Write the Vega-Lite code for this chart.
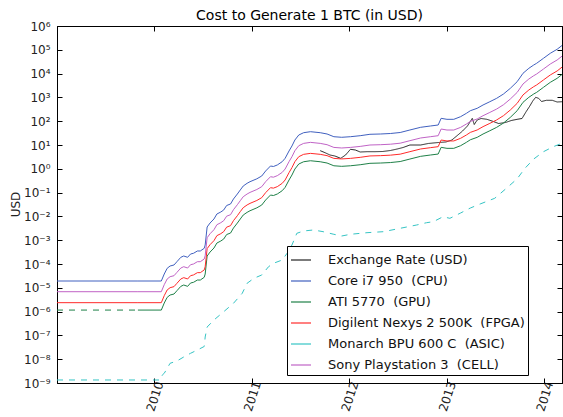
{
  "$schema": "https://vega.github.io/schema/vega-lite/v6.json",
  "width": 505,
  "height": 357,
  "autosize": {"type": "none"},
  "padding": {"left": 57, "top": 26, "right": 1, "bottom": 34},
  "title": {"text": "Cost to Generate 1 BTC (in USD)", "fontSize": 14, "fontWeight": "normal", "font": "DejaVu Sans", "color": "#000", "offset": -14, "baseline": "alphabetic", "anchor": "middle"},
  "config": {
    "font": "DejaVu Sans",
    "view": {"stroke": "#000", "strokeWidth": 1},
    "axis": {"domainColor": "#000", "tickColor": "#000", "labelColor": "#222", "labelFontSize": 12, "grid": false, "tickSize": -5, "titleFontWeight": "normal", "titleFontSize": 12, "titleColor": "#222"}
  },
  "datasets": {
    "wide": [
      {"t": 2009.00, "C": 1.93e-5, "P": 6.85e-6, "F": 2.37e-6},
      {"t": 2009.83, "C": 1.93e-5, "P": 6.85e-6, "F": 2.37e-6, "G": 1.16e-6},
      {"t": 2010.07, "C": 1.93e-5, "P": 6.85e-6, "F": 2.37e-6, "G": 1.16e-6},
      {"t": 2010.10, "C": 3.80e-5, "P": 1.35e-5, "F": 4.67e-6, "G": 2.29e-6},
      {"t": 2010.13, "C": 6.59e-5, "P": 2.34e-5, "F": 8.11e-6, "G": 3.97e-6},
      {"t": 2010.16, "C": 8.24e-5, "P": 2.93e-5, "F": 1.01e-5, "G": 4.97e-6},
      {"t": 2010.20, "C": 9.08e-5, "P": 3.22e-5, "F": 1.12e-5, "G": 5.48e-6},
      {"t": 2010.23, "C": 1.25e-4, "P": 4.44e-5, "F": 1.54e-5, "G": 7.54e-6},
      {"t": 2010.27, "C": 1.91e-4, "P": 6.78e-5, "F": 2.35e-5, "G": 1.15e-5},
      {"t": 2010.30, "C": 2.17e-4, "P": 7.70e-5, "F": 2.67e-5, "G": 1.31e-5},
      {"t": 2010.34, "C": 1.91e-4, "P": 6.78e-5, "F": 2.35e-5, "G": 1.15e-5},
      {"t": 2010.37, "C": 2.63e-4, "P": 9.34e-5, "F": 3.23e-5, "G": 1.59e-5},
      {"t": 2010.40, "C": 2.82e-4, "P": 1.00e-4, "F": 3.47e-5, "G": 1.70e-5},
      {"t": 2010.44, "C": 3.52e-4, "P": 1.25e-4, "F": 4.33e-5, "G": 2.12e-5},
      {"t": 2010.47, "C": 3.52e-4, "P": 1.25e-4, "F": 4.33e-5, "G": 2.12e-5},
      {"t": 2010.51, "C": 4.57e-4, "P": 1.62e-4, "F": 5.62e-5, "G": 2.76e-5},
      {"t": 2010.52, "C": 6.28e-4, "P": 2.23e-4, "F": 7.72e-5, "G": 3.79e-5},
      {"t": 2010.54, "C": 3.59e-3, "P": 1.27e-3, "F": 4.42e-4, "G": 2.16e-4},
      {"t": 2010.57, "C": 5.28e-3, "P": 1.87e-3, "F": 6.49e-4, "G": 3.18e-4},
      {"t": 2010.61, "C": 7.78e-3, "P": 2.76e-3, "F": 9.57e-4, "G": 4.69e-4},
      {"t": 2010.64, "C": 1.26e-2, "P": 4.47e-3, "F": 1.55e-3, "G": 7.60e-4},
      {"t": 2010.68, "C": 1.53e-2, "P": 5.43e-3, "F": 1.88e-3, "G": 9.23e-4},
      {"t": 2010.71, "C": 1.86e-2, "P": 6.60e-3, "F": 2.29e-3, "G": 1.12e-3},
      {"t": 2010.74, "C": 2.87e-2, "P": 1.02e-2, "F": 3.53e-3, "G": 1.73e-3},
      {"t": 2010.78, "C": 3.32e-2, "P": 1.18e-2, "F": 4.08e-3, "G": 2.00e-3},
      {"t": 2010.81, "C": 5.38e-2, "P": 1.91e-2, "F": 6.62e-3, "G": 3.24e-3},
      {"t": 2010.85, "C": 8.73e-2, "P": 3.10e-2, "F": 1.07e-2, "G": 5.26e-3},
      {"t": 2010.88, "C": 0.129, "P": 0.0458, "F": 0.0159, "G": 0.00778},
      {"t": 2010.91, "C": 0.189, "P": 0.0671, "F": 0.0232, "G": 0.0114},
      {"t": 2010.95, "C": 0.246, "P": 0.0873, "F": 0.0303, "G": 0.0148},
      {"t": 2010.98, "C": 0.287, "P": 0.102, "F": 0.0353, "G": 0.0173},
      {"t": 2011.05, "C": 0.380, "P": 0.135, "F": 0.0467, "G": 0.0229},
      {"t": 2011.10, "C": 0.498, "P": 0.177, "F": 0.0613, "G": 0.0300},
      {"t": 2011.14, "C": 0.809, "P": 0.287, "F": 0.0995, "G": 0.0488},
      {"t": 2011.19, "C": 1.31, "P": 0.465, "F": 0.161, "G": 0.0790},
      {"t": 2011.22, "C": 1.25, "P": 0.444, "F": 0.154, "G": 0.0754},
      {"t": 2011.26, "C": 1.45, "P": 0.515, "F": 0.178, "G": 0.0874},
      {"t": 2011.31, "C": 1.99, "P": 0.706, "F": 0.245, "G": 0.120},
      {"t": 2011.34, "C": 2.76, "P": 0.980, "F": 0.339, "G": 0.166},
      {"t": 2011.38, "C": 5.60, "P": 1.99, "F": 0.689, "G": 0.338},
      {"t": 2011.41, "C": 9.08, "P": 3.22, "F": 1.12, "G": 0.548},
      {"t": 2011.44, "C": 16.2, "P": 5.75, "F": 1.99, "G": 0.977},
      {"t": 2011.48, "C": 26.3, "P": 9.34, "F": 3.23, "G": 1.59},
      {"t": 2011.53, "C": 32.9, "P": 11.7, "F": 4.05, "G": 1.98},
      {"t": 2011.60, "C": 36.2, "P": 12.9, "F": 4.45, "G": 2.18},
      {"t": 2011.70, "C": 32.9, "P": 11.7, "F": 4.05, "G": 1.98},
      {"t": 2011.77, "C": 29.0, "P": 10.3, "F": 3.57, "G": 1.75},
      {"t": 2011.84, "C": 22.3, "P": 7.92, "F": 2.74, "G": 1.34},
      {"t": 2011.92, "C": 21.1, "P": 7.49, "F": 2.60, "G": 1.27},
      {"t": 2012.01, "C": 22.3, "P": 7.92, "F": 2.74, "G": 1.34},
      {"t": 2012.11, "C": 24.6, "P": 8.73, "F": 3.03, "G": 1.48},
      {"t": 2012.21, "C": 28.2, "P": 10.0, "F": 3.47, "G": 1.70},
      {"t": 2012.32, "C": 29.0, "P": 10.3, "F": 3.57, "G": 1.75},
      {"t": 2012.42, "C": 30.4, "P": 10.8, "F": 3.74, "G": 1.83},
      {"t": 2012.52, "C": 33.5, "P": 11.9, "F": 4.12, "G": 2.02},
      {"t": 2012.62, "C": 42.7, "P": 15.2, "F": 5.25, "G": 2.57},
      {"t": 2012.73, "C": 55.4, "P": 19.7, "F": 6.81, "G": 3.34},
      {"t": 2012.83, "C": 62.8, "P": 22.3, "F": 7.72, "G": 3.79},
      {"t": 2012.91, "C": 69.2, "P": 24.6, "F": 8.51, "G": 4.17},
      {"t": 2012.94, "C": 132, "P": 46.9, "F": 16.2, "G": 7.96},
      {"t": 2013.00, "C": 120, "P": 42.6, "F": 14.8, "G": 7.24},
      {"t": 2013.07, "C": 120, "P": 42.6, "F": 14.8, "G": 7.24},
      {"t": 2013.14, "C": 155, "P": 55.0, "F": 19.1, "G": 9.35},
      {"t": 2013.20, "C": 215, "P": 76.3, "F": 26.4, "G": 13.0},
      {"t": 2013.24, "C": 276, "P": 98.0, "F": 33.9, "G": 16.6},
      {"t": 2013.31, "C": 348, "P": 124, "F": 42.8, "G": 21.0},
      {"t": 2013.37, "C": 480, "P": 170, "F": 59.0, "G": 28.9},
      {"t": 2013.44, "C": 659, "P": 234, "F": 81.1, "G": 39.7},
      {"t": 2013.51, "C": 916, "P": 325, "F": 113, "G": 55.2},
      {"t": 2013.58, "C": 1390, "P": 493, "F": 171, "G": 83.8},
      {"t": 2013.65, "C": 2410, "P": 856, "F": 296, "G": 145},
      {"t": 2013.72, "C": 4570, "P": 1620, "F": 562, "G": 276},
      {"t": 2013.78, "C": 10300, "P": 3660, "F": 1270, "G": 621},
      {"t": 2013.84, "C": 16700, "P": 5930, "F": 2050, "G": 1010},
      {"t": 2013.89, "C": 23000, "P": 8170, "F": 2830, "G": 1390},
      {"t": 2013.92, "C": 27100, "P": 9620, "F": 3330, "G": 1630},
      {"t": 2013.99, "C": 44000, "P": 15600, "F": 5410, "G": 2650},
      {"t": 2014.06, "C": 71300, "P": 25300, "F": 8770, "G": 4300},
      {"t": 2014.13, "C": 105000, "P": 37300, "F": 12900, "G": 6330},
      {"t": 2014.18, "C": 152000, "P": 54000, "F": 18700, "G": 9170}
    ],
    "long": [
      {"s": "E", "d": "solid", "t": 2011.70, "v": 5.77},
      {"s": "E", "d": "solid", "t": 2011.75, "v": 4.74},
      {"s": "E", "d": "solid", "t": 2011.80, "v": 3.80},
      {"s": "E", "d": "solid", "t": 2011.85, "v": 3.45},
      {"s": "E", "d": "solid", "t": 2011.91, "v": 2.76},
      {"s": "E", "d": "solid", "t": 2011.96, "v": 3.80},
      {"s": "E", "d": "solid", "t": 2012.01, "v": 6.59},
      {"s": "E", "d": "solid", "t": 2012.06, "v": 6.17},
      {"s": "E", "d": "solid", "t": 2012.11, "v": 5.08},
      {"s": "E", "d": "solid", "t": 2012.18, "v": 5.23},
      {"s": "E", "d": "solid", "t": 2012.26, "v": 5.23},
      {"s": "E", "d": "solid", "t": 2012.34, "v": 5.33},
      {"s": "E", "d": "solid", "t": 2012.42, "v": 5.87},
      {"s": "E", "d": "solid", "t": 2012.49, "v": 6.79},
      {"s": "E", "d": "solid", "t": 2012.55, "v": 7.85},
      {"s": "E", "d": "solid", "t": 2012.62, "v": 10.0},
      {"s": "E", "d": "solid", "t": 2012.73, "v": 10.0},
      {"s": "E", "d": "solid", "t": 2012.81, "v": 11.6},
      {"s": "E", "d": "solid", "t": 2012.91, "v": 12.7},
      {"s": "E", "d": "solid", "t": 2012.99, "v": 13.4},
      {"s": "E", "d": "solid", "t": 2013.05, "v": 16.2},
      {"s": "E", "d": "solid", "t": 2013.10, "v": 23.9},
      {"s": "E", "d": "solid", "t": 2013.16, "v": 38.7},
      {"s": "E", "d": "solid", "t": 2013.21, "v": 62.8},
      {"s": "E", "d": "solid", "t": 2013.26, "v": 132},
      {"s": "E", "d": "solid", "t": 2013.28, "v": 72.6},
      {"s": "E", "d": "solid", "t": 2013.31, "v": 112},
      {"s": "E", "d": "solid", "t": 2013.35, "v": 130},
      {"s": "E", "d": "solid", "t": 2013.41, "v": 120},
      {"s": "E", "d": "solid", "t": 2013.47, "v": 99},
      {"s": "E", "d": "solid", "t": 2013.53, "v": 80},
      {"s": "E", "d": "solid", "t": 2013.60, "v": 88},
      {"s": "E", "d": "solid", "t": 2013.66, "v": 107},
      {"s": "E", "d": "solid", "t": 2013.72, "v": 120},
      {"s": "E", "d": "solid", "t": 2013.77, "v": 130},
      {"s": "E", "d": "solid", "t": 2013.81, "v": 244},
      {"s": "E", "d": "solid", "t": 2013.85, "v": 435},
      {"s": "E", "d": "solid", "t": 2013.88, "v": 706},
      {"s": "E", "d": "solid", "t": 2013.91, "v": 1010},
      {"s": "E", "d": "solid", "t": 2013.94, "v": 916},
      {"s": "E", "d": "solid", "t": 2013.97, "v": 673},
      {"s": "E", "d": "solid", "t": 2014.02, "v": 755},
      {"s": "E", "d": "solid", "t": 2014.08, "v": 755},
      {"s": "E", "d": "solid", "t": 2014.13, "v": 641},
      {"s": "E", "d": "solid", "t": 2014.18, "v": 659},
      {"s": "G", "d": "dashed", "t": 2009.00, "v": 1.16e-6},
      {"s": "G", "d": "dashed", "t": 2009.83, "v": 1.16e-6},
      {"s": "A", "d": "dashed", "t": 2009.00, "v": 1.34e-9},
      {"s": "A", "d": "dashed", "t": 2010.06, "v": 1.34e-9},
      {"s": "A", "d": "dashed", "t": 2010.08, "v": 2.17e-9},
      {"s": "A", "d": "dashed", "t": 2010.10, "v": 2.56e-9},
      {"s": "A", "d": "dashed", "t": 2010.16, "v": 6.73e-9},
      {"s": "A", "d": "dashed", "t": 2010.23, "v": 8.4e-9},
      {"s": "A", "d": "dashed", "t": 2010.30, "v": 1.24e-8},
      {"s": "A", "d": "dashed", "t": 2010.37, "v": 1.77e-8},
      {"s": "A", "d": "dashed", "t": 2010.44, "v": 2.44e-8},
      {"s": "A", "d": "dashed", "t": 2010.51, "v": 3.42e-8},
      {"s": "A", "d": "dashed", "t": 2010.52, "v": 8.57e-8},
      {"s": "A", "d": "dashed", "t": 2010.54, "v": 2.25e-7},
      {"s": "A", "d": "dashed", "t": 2010.61, "v": 4.44e-7},
      {"s": "A", "d": "dashed", "t": 2010.71, "v": 9.9e-7},
      {"s": "A", "d": "dashed", "t": 2010.81, "v": 2.23e-6},
      {"s": "A", "d": "dashed", "t": 2010.90, "v": 5.87e-6},
      {"s": "A", "d": "dashed", "t": 2010.95, "v": 1.55e-5},
      {"s": "A", "d": "dashed", "t": 2011.02, "v": 2.51e-5},
      {"s": "A", "d": "dashed", "t": 2011.10, "v": 3.45e-5},
      {"s": "A", "d": "dashed", "t": 2011.17, "v": 7.7e-5},
      {"s": "A", "d": "dashed", "t": 2011.22, "v": 1.07e-4},
      {"s": "A", "d": "dashed", "t": 2011.31, "v": 1.47e-4},
      {"s": "A", "d": "dashed", "t": 2011.36, "v": 2.82e-4},
      {"s": "A", "d": "dashed", "t": 2011.41, "v": 6.28e-4},
      {"s": "A", "d": "dashed", "t": 2011.46, "v": 1.95e-3},
      {"s": "A", "d": "dashed", "t": 2011.53, "v": 2.44e-3},
      {"s": "A", "d": "dashed", "t": 2011.63, "v": 2.69e-3},
      {"s": "A", "d": "dashed", "t": 2011.73, "v": 2.28e-3},
      {"s": "A", "d": "dashed", "t": 2011.84, "v": 1.77e-3},
      {"s": "A", "d": "dashed", "t": 2011.92, "v": 1.50e-3},
      {"s": "A", "d": "dashed", "t": 2012.01, "v": 1.77e-3},
      {"s": "A", "d": "dashed", "t": 2012.18, "v": 2.07e-3},
      {"s": "A", "d": "dashed", "t": 2012.35, "v": 2.28e-3},
      {"s": "A", "d": "dashed", "t": 2012.52, "v": 3.16e-3},
      {"s": "A", "d": "dashed", "t": 2012.69, "v": 4.36e-3},
      {"s": "A", "d": "dashed", "t": 2012.79, "v": 5.43e-3},
      {"s": "A", "d": "dashed", "t": 2012.86, "v": 5.98e-3},
      {"s": "A", "d": "dashed", "t": 2012.96, "v": 9.7e-3},
      {"s": "A", "d": "dashed", "t": 2013.03, "v": 8.3e-3},
      {"s": "A", "d": "dashed", "t": 2013.14, "v": 1.39e-2},
      {"s": "A", "d": "dashed", "t": 2013.24, "v": 2.25e-2},
      {"s": "A", "d": "dashed", "t": 2013.34, "v": 3.32e-2},
      {"s": "A", "d": "dashed", "t": 2013.49, "v": 5.77e-2},
      {"s": "A", "d": "dashed", "t": 2013.61, "v": 0.152},
      {"s": "A", "d": "dashed", "t": 2013.72, "v": 0.380},
      {"s": "A", "d": "dashed", "t": 2013.80, "v": 1.05},
      {"s": "A", "d": "dashed", "t": 2013.89, "v": 2.58},
      {"s": "A", "d": "dashed", "t": 2013.99, "v": 5.23},
      {"s": "A", "d": "dashed", "t": 2014.09, "v": 8.49},
      {"s": "A", "d": "dashed", "t": 2014.18, "v": 11.8}
    ]
  },
  "layer": [
    {
      "data": {"name": "long"},
      "mark": {"type": "line", "strokeWidth": 1, "clip": true},
      "encoding": {
        "x": {"field": "t", "type": "quantitative", "scale": {"domain": [2009.0, 2014.18], "nice": false, "zero": false},
              "axis": {"orient": "bottom", "title": null, "values": [2010, 2011, 2012, 2013, 2014], "format": "d", "labelAngle": -72, "labelAlign": "center", "labelBaseline": "middle", "labelPadding": 18, "labelFlush": false}},
        "y": {"field": "v", "type": "quantitative", "scale": {"type": "log", "domain": [1e-9, 1e6], "nice": false},
              "axis": {"orient": "left", "title": "USD", "titleX": -42, "titleY": 178, "titleAngle": -90, "titleAlign": "center", "titleBaseline": "middle",
                       "values": [1e-9, 1e-8, 1e-7, 1e-6, 1e-5, 1e-4, 1e-3, 1e-2, 1e-1, 1, 10, 100, 1000, 1e4, 1e5, 1e6],
                       "labelPadding": 12, "labelFlush": false,
                       "labelExpr": "'10' + ['⁻⁹','⁻⁸','⁻⁷','⁻⁶','⁻⁵','⁻⁴','⁻³','⁻²','⁻¹','⁰','¹','²','³','⁴','⁵','⁶'][round(log(datum.value)/LN10)+9]"}},
        "color": {"field": "s", "type": "nominal",
                  "scale": {"domain": ["E", "C", "G", "F", "A", "P"], "range": ["#222222", "#4060bf", "#1e8047", "#ff2a2a", "#35c4c4", "#c063c6"]},
                  "legend": {"title": null, "orient": "none", "legendX": 230, "legendY": 220, "strokeColor": "#000", "fillColor": "#fff", "padding": 3,
                             "symbolType": "stroke", "symbolSize": 400, "symbolStrokeWidth": 1.2, "labelFontSize": 13, "labelColor": "#111",
                             "labelOffset": 16, "rowPadding": 3, "cornerRadius": 0, "labelLimit": 300,
                             "labelExpr": "datum.label=='E'?'Exchange Rate (USD)':datum.label=='C'?'Core i7 950\u00a0 (CPU)':datum.label=='G'?'ATI 5770\u00a0 (GPU)':datum.label=='F'?'Digilent Nexys 2 500K\u00a0 (FPGA)':datum.label=='A'?'Monarch BPU 600 C\u00a0 (ASIC)':'Sony Playstation 3\u00a0 (CELL)'"}},
        "strokeDash": {"field": "d", "type": "nominal", "scale": {"domain": ["solid", "dashed"], "range": [[1, 0], [6, 6]]}, "legend": null}
      }
    },
    {
      "data": {"name": "wide"},
      "transform": [{"fold": ["C", "G", "F", "P"], "as": ["s", "v"]}],
      "mark": {"type": "line", "strokeWidth": 1, "clip": true},
      "encoding": {
        "x": {"field": "t", "type": "quantitative", "scale": {"domain": [2009.0, 2014.18], "nice": false, "zero": false}, "axis": null},
        "y": {"field": "v", "type": "quantitative", "scale": {"type": "log", "domain": [1e-9, 1e6], "nice": false}, "axis": null},
        "color": {"field": "s", "type": "nominal", "scale": {"domain": ["E", "C", "G", "F", "A", "P"], "range": ["#222222", "#4060bf", "#1e8047", "#ff2a2a", "#35c4c4", "#c063c6"]}}
      }
    },
    {
      "data": {"name": "long"},
      "mark": {"type": "line", "opacity": 0},
      "encoding": {
        "x": {"field": "t", "type": "quantitative", "scale": {"domain": [2009.0, 2014.18], "nice": false, "zero": false},
              "axis": {"orient": "top", "title": null, "labels": false, "values": [2010, 2011, 2012, 2013, 2014]}},
        "y": {"field": "v", "type": "quantitative", "scale": {"type": "log", "domain": [1e-9, 1e6], "nice": false},
              "axis": {"orient": "right", "title": null, "labels": false, "values": [1e-9, 1e-8, 1e-7, 1e-6, 1e-5, 1e-4, 1e-3, 1e-2, 1e-1, 1, 10, 100, 1000, 1e4, 1e5, 1e6]}},
        "detail": {"field": "s", "type": "nominal"}
      }
    }
  ],
  "resolve": {"axis": {"x": "independent", "y": "independent"}}
}
